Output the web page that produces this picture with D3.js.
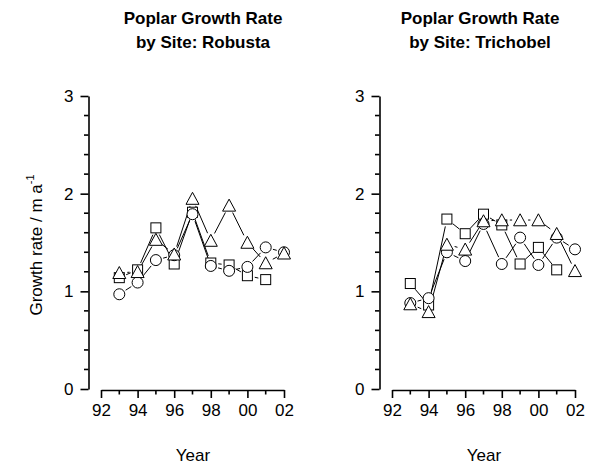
<!DOCTYPE html>
<html>
<head>
<meta charset="utf-8">
<script src="https://cdn.jsdelivr.net/npm/d3@7"></script>
<style>
  html, body { margin: 0; padding: 0; background: #fff; }
  svg { display: block; font-family: "Liberation Sans", Arial, sans-serif; }
</style>
</head>
<body>
<svg id="chart" width="598" height="467"></svg>
<script>
// Growth seasons (19xx / 20xx as 93..102)
const years = [93, 94, 95, 96, 97, 98, 99, 100, 101, 102];
const yearTicks = [92, 94, 96, 98, 100, 102];
const yearTickLabels = ["92", "94", "96", "98", "00", "02"];
const rateTicks = [0, 1, 2, 3];

// Robusta site, growth rate in m per year
const robustaTriangle = [1.19, 1.20, 1.53, 1.38, 1.95, 1.52, 1.88, 1.50, 1.29, 1.39];
const robustaSquare   = [1.14, 1.22, 1.65, 1.28, 1.81, 1.29, 1.27, 1.16, 1.12];
const robustaCircle   = [0.97, 1.09, 1.32, 1.37, 1.79, 1.26, 1.21, 1.25, 1.45, 1.40];

// Trichobel site, growth rate in m per year
const trichobelTriangle = [0.87, 0.79, 1.48, 1.43, 1.72, 1.73, 1.73, 1.73, 1.59, 1.21];
const trichobelSquare   = [1.08, 0.86, 1.74, 1.59, 1.79, 1.68, 1.28, 1.45, 1.22];
const trichobelCircle   = [0.88, 0.93, 1.40, 1.31, 1.69, 1.28, 1.55, 1.27, 1.55, 1.43];

const panels = [
  { title: ["Poplar Growth Rate", "by Site: Robusta"], dx: 0, titleX: 203,
    series: [
      { shape: "square", values: robustaSquare },
      { shape: "circle", values: robustaCircle },
      { shape: "triangle", values: robustaTriangle }
    ], showYTitle: true },
  { title: ["Poplar Growth Rate", "by Site: Trichobel"], dx: 291, titleX: 189,
    series: [
      { shape: "square", values: trichobelSquare },
      { shape: "circle", values: trichobelCircle },
      { shape: "triangle", values: trichobelTriangle }
    ], showYTitle: false }
];

const svg = d3.select("#chart");

// marker geometry
const R_CIRCLE = 5.5, HALF_SQ = 5, TRI_W = 13, TRI_H = 11.5;
const markerRadius = { circle: 5.5, square: 5.5, triangle: 6 };
const GAP = 2;

function drawMarker(g, shape, cx, cy) {
  if (shape === "circle") {
    g.append("circle").attr("cx", cx).attr("cy", cy).attr("r", R_CIRCLE);
  } else if (shape === "square") {
    g.append("rect").attr("x", cx - HALF_SQ).attr("y", cy - HALF_SQ)
      .attr("width", 2 * HALF_SQ).attr("height", 2 * HALF_SQ);
  } else {
    const pts = [[cx, cy - TRI_H / 2 - 0.5], [cx + TRI_W / 2, cy + TRI_H / 2],
                 [cx - TRI_W / 2, cy + TRI_H / 2]];
    g.append("path").attr("d", "M" + pts.map(p => p.join(",")).join("L") + "Z");
  }
}

panels.forEach(p => {
  const g = svg.append("g").attr("transform", `translate(${p.dx},0)`);
  const x = d3.scaleLinear().domain([92, 102]).range([101, 284]);
  const y = d3.scaleLinear().domain([0, 3]).range([389, 96]);
  const yAxisX = 88.5, xAxisY = 390;

  // title
  const t = g.append("text").attr("text-anchor", "middle")
    .attr("font-weight", "bold").attr("font-size", 17).attr("fill", "#000");
  t.append("tspan").attr("x", p.titleX).attr("y", 24).text(p.title[0]);
  t.append("tspan").attr("x", p.titleX).attr("y", 48).text(p.title[1]);

  // y axis: major ticks with labels, minor ticks every 0.2
  const yMinor = d3.range(0, 3.0001, 0.2).filter(v => Math.abs(v - Math.round(v)) > 1e-6);
  const yAx = g.append("g").attr("transform", `translate(${yAxisX},0)`)
    .call(d3.axisLeft(y).tickValues(rateTicks).tickSize(8).tickSizeOuter(0)
      .tickPadding(7).tickFormat(d3.format("d")));
  yAx.append("g").selectAll("line").data(yMinor).join("line")
    .attr("x1", 0).attr("x2", -4.5).attr("y1", d => y(d)).attr("y2", d => y(d));

  // x axis: labelled ticks every two years, minor ticks in between
  const xMinor = [93, 95, 97, 99, 101];
  const xAx = g.append("g").attr("transform", `translate(0,${xAxisY})`)
    .call(d3.axisBottom(x).tickValues(yearTicks).tickSize(8).tickSizeOuter(0)
      .tickPadding(6).tickFormat((d, i) => yearTickLabels[i]));
  xAx.append("g").selectAll("line").data(xMinor).join("line")
    .attr("x1", d => x(d)).attr("x2", d => x(d)).attr("y1", 0).attr("y2", 4.5);

  [yAx, xAx].forEach(a => {
    a.selectAll("path.domain").attr("stroke", "#000").attr("stroke-width", 1.6);
    a.selectAll("line").attr("stroke", "#000").attr("stroke-width", 1.6);
    a.selectAll("text").attr("font-size", 17).attr("fill", "#000")
      .attr("font-family", "'Liberation Sans', Arial, sans-serif");
  });

  // axis titles
  g.append("text").attr("x", 193).attr("y", 461).attr("text-anchor", "middle")
    .attr("font-size", 17).attr("fill", "#000").text("Year");
  if (p.showYTitle) {
    const yt = g.append("text").attr("transform", "translate(42,245) rotate(-90)")
      .attr("text-anchor", "middle").attr("font-size", 17).attr("fill", "#000");
    yt.append("tspan").text("Growth rate / m a");
    yt.append("tspan").attr("font-size", 11).attr("dy", -8).text("-1");
  }

  // connecting lines, stopping short of the markers
  const lineG = g.append("g").attr("stroke", "#000").attr("stroke-width", 1).attr("fill", "none");
  p.series.forEach(s => {
    const pts = s.values.map((v, i) => [x(years[i]), y(v)]);
    const r = markerRadius[s.shape] + GAP;
    for (let i = 0; i < pts.length - 1; i++) {
      const [x1, y1] = pts[i], [x2, y2] = pts[i + 1];
      const len = Math.hypot(x2 - x1, y2 - y1);
      if (len <= 2 * r + 1) continue;
      const ux = (x2 - x1) / len, uy = (y2 - y1) / len;
      lineG.append("line")
        .attr("x1", x1 + ux * r).attr("y1", y1 + uy * r)
        .attr("x2", x2 - ux * r).attr("y2", y2 - uy * r);
    }
  });

  // hollow markers
  p.series.forEach(s => {
    const mg = g.append("g").attr("fill", "#fff").attr("stroke", "#000").attr("stroke-width", 1);
    s.values.forEach((v, i) => drawMarker(mg, s.shape, x(years[i]), y(v)));
  });
});
</script>
</body>
</html>
